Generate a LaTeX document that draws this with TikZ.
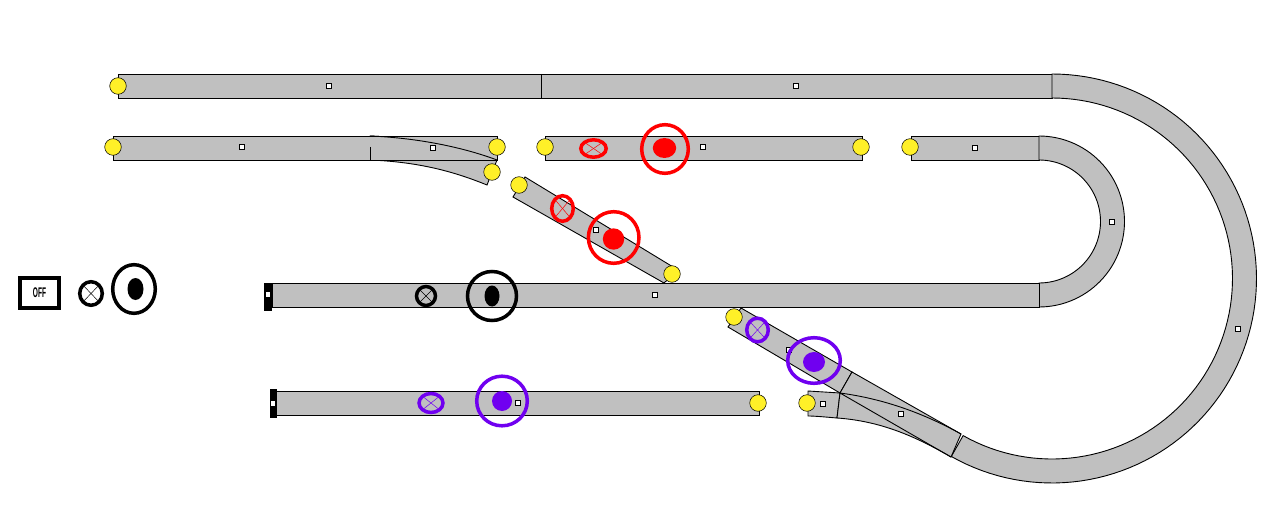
\documentclass[tikz,border=0pt]{standalone}
\usepackage{fontspec}
\setmainfont{Liberation Sans}
\definecolor{trackgray}{RGB}{192,192,192}
\definecolor{lampyellow}{RGB}{255,240,40}
\definecolor{sigred}{RGB}{255,0,0}
\definecolor{sigviolet}{RGB}{112,0,240}
\tikzset{
  track/.style={draw=black,fill=trackgray,line width=0.9pt,line join=miter},
  seam/.style={draw=black,line width=0.9pt},
  lamp/.style={draw=black,fill=lampyellow,line width=0.5pt},
  feeder/.style={draw=black,fill=white,line width=0.8pt},
  ringmark/.style={draw=#1,line width=3.5pt},
  xline/.style={draw=#1,line width=0.5pt},
  dotmark/.style={fill=#1},
}
\newcommand{\lampat}[2]{\draw[lamp] (#1,#2) circle (8.3);}
\newcommand{\feederat}[2]{\draw[feeder] (#1-2.8,#2-2.8) rectangle (#1+2.8,#2+2.8);}
\newcommand{\crossring}[5]{%
  \draw[xline=#1] (#2-#4*0.7,#3-#5*0.7) -- (#2+#4*0.7,#3+#5*0.7);
  \draw[xline=#1] (#2-#4*0.7,#3+#5*0.7) -- (#2+#4*0.7,#3-#5*0.7);
  \draw[ringmark=#1] (#2,#3) ellipse [x radius=#4,y radius=#5];}
\begin{document}
\begin{tikzpicture}[x=1pt,y=-1pt]
\useasboundingbox (0,0) rectangle (1264,508);
\fill[white] (0,0) rectangle (1264,508);
% outer loop
\draw[track] (118,74) rectangle (1052,98);
\draw[seam] (541,74) -- (541,98);
\draw[track] plot[domain=-90:119.5,samples=90] ({1052+204.5*cos(\x)},{278.5+204.5*sin(\x)})
  -- plot[domain=119.5:-90,samples=90] ({1052+180.5*cos(\x)},{278.5+180.5*sin(\x)}) -- cycle;
% row two, left with turnout
\draw[track] (370,136) .. controls (420,138) and (465,148) .. (497,160) -- (487,185)
  .. controls (455,172) and (420,162) .. (370,160) -- cycle;
\draw[track] (113,136) -- (497,136) -- (497,160) -- (113,160) -- cycle;
\draw[seam] (370,136) .. controls (420,138) and (465,148) .. (497,160);
\draw[seam] (370,147) -- (370,160);
% row two, middle and right
\draw[track] (545,136) rectangle (862,160);
\draw[track] (911,136) rectangle (1039,160);
\draw[track] plot[domain=-90:90,samples=60] ({1039+85.5*cos(\x)},{221.5+85.5*sin(\x)})
  -- plot[domain=90:-90,samples=60] ({1039+61.5*cos(\x)},{221.5+61.5*sin(\x)}) -- cycle;
% long middle
\draw[track] (272,283) rectangle (1039,307);
% red diagonal
\draw[track] (525,177) -- (678,270) -- (664,283) -- (513,197) -- cycle;
% violet diagonal and turnout
\draw[track] (741,308) -- (852,372) -- (840,393) -- (728,327) -- cycle;
\draw[track] (808,391) -- (840,393) -- (837,418) .. controls (825,417) and (815,416) .. (808,416) -- cycle;
\draw[track] (840,393) -- (852,372) -- (961,434) -- (951,457)
  .. controls (915,436) and (880,421) .. (837,418) -- cycle;
\draw[seam] (840,393) -- (951,457);
\draw[seam] (840,393) .. controls (885,399) and (925,414) .. (961,434);
% bottom siding
\draw[track] (276,391) rectangle (759,415);
% bumpers
\fill[black] (264,283) rectangle (272,311);
\fill[black] (270,389) rectangle (277,418);
\fill[white] (266,292) rectangle (270,297);
\fill[white] (271,401) rectangle (275,406);
% feeders
\feederat{329}{86}\feederat{796}{86}\feederat{242}{147}\feederat{433}{148}
\feederat{703}{147}\feederat{975}{148}\feederat{1112}{222}\feederat{596}{230}
\feederat{655}{295}\feederat{1238}{329}\feederat{518}{403}\feederat{823}{404}
\feederat{901}{414}\feederat{789}{350}
% lamps
\lampat{118}{86}\lampat{113}{147}\lampat{497}{147}\lampat{492}{172}
\lampat{545}{147}\lampat{861}{147}\lampat{910}{147}\lampat{519}{185}
\lampat{672}{274}\lampat{734}{317}\lampat{758}{403}\lampat{807}{403}
% signals: red
\crossring{sigred}{593.5}{148.5}{12.7}{8.7}
\fill[sigred] (664.5,148) ellipse [x radius=11.7,y radius=10];
\draw[ringmark=sigred] (665,149) ellipse [x radius=23.3,y radius=24.3];
\crossring{sigred}{562.5}{208.5}{10.8}{12.8}
\fill[sigred] (613.5,239) circle (10.7);
\draw[ringmark=sigred] (613.7,237.5) ellipse [x radius=25.3,y radius=25.8];
% signals: black
\crossring{black}{426}{296}{9.5}{9.5}
\fill[black] (492,296) ellipse [x radius=7.5,y radius=10.5];
\draw[ringmark=black] (492,296) ellipse [x radius=24.5,y radius=24.5];
\crossring{black}{91}{293.5}{11.3}{11.8}
\fill[black] (135.5,289) ellipse [x radius=8,y radius=11];
\draw[ringmark=black] (134,289) ellipse [x radius=21.3,y radius=24.3];
% signals: violet
\crossring{sigviolet}{757.5}{330}{10.8}{11.8}
\fill[sigviolet] (814,362) ellipse [x radius=11,y radius=10];
\draw[ringmark=sigviolet] (814,360.5) ellipse [x radius=26.3,y radius=22.8];
\crossring{sigviolet}{431}{403}{12}{9.5}
\fill[sigviolet] (502,401) circle (10);
\draw[ringmark=sigviolet] (502,401) ellipse [x radius=25.3,y radius=24.8];
% off switch
\draw[black,line width=4pt] (20,278) rectangle (59,308);
\node[font=\bfseries,xscale=0.47,inner sep=0pt,text=black] (offlabel) at (39.5,293) {\fontsize{14}{14}\selectfont OFF};
\end{tikzpicture}
\end{document}
